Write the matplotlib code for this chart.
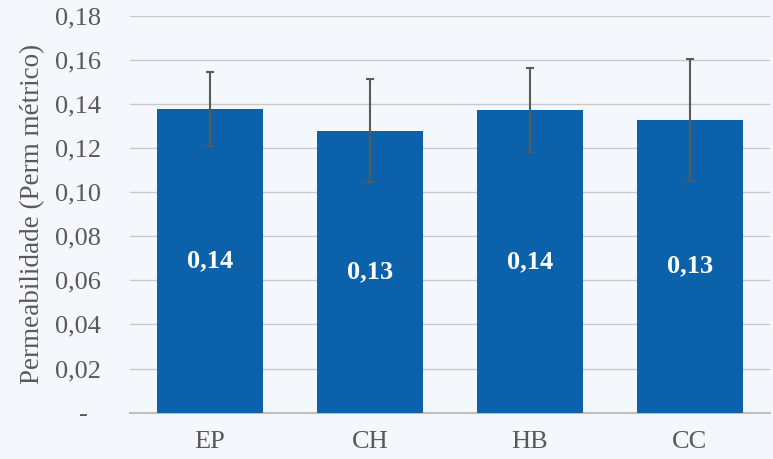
import numpy as np
import matplotlib
matplotlib.use("Agg")
import matplotlib.pyplot as plt

# data
categories = ["EP", "CH", "HB", "CC"]
means = [0.1376, 0.1279, 0.1372, 0.1327]
errors = [0.0168, 0.0234, 0.0190, 0.0276]
bar_labels = ["0,14", "0,13", "0,14", "0,13"]
yticks = [0.0, 0.02, 0.04, 0.06, 0.08, 0.10, 0.12, 0.14, 0.16, 0.18]

bg = "#f4f8fc"
bar_color = "#0b61aa"
text_grey = "#595959"

plt.rcParams["font.family"] = ["Liberation Serif", "DejaVu Serif"]

fig = plt.figure(figsize=(7.73, 4.59), dpi=100, facecolor=bg)
ax = fig.add_axes([0.168, 0.101, 0.828, 0.865], facecolor=bg)

x = np.arange(len(categories))
ax.bar(x, means, width=0.66, color=bar_color, zorder=3,
       yerr=errors, ecolor=text_grey,
       error_kw=dict(elinewidth=1.5, capsize=3, capthick=1.5, zorder=4))

for xi, m, lab in zip(x, means, bar_labels):
    ax.text(xi, m / 2, lab, ha="center", va="center", color="white",
            fontsize=19, fontweight="bold", zorder=5)

ax.set_xlim(-0.5, len(categories) - 0.5)
ax.set_ylim(0, 0.18)
ax.set_yticks(yticks)
ax.set_yticklabels(["-  "] + ["{:.2f}".format(v).replace(".", ",") for v in yticks[1:]])
ax.set_xticks(x)
ax.set_xticklabels(categories)

ax.grid(axis="y", color="#c9c9c9", linewidth=1.0, zorder=0)
for side in ["left", "right", "top"]:
    ax.spines[side].set_visible(False)
ax.spines["bottom"].set_color("#bfbfbf")
ax.spines["bottom"].set_linewidth(1.5)

ax.tick_params(axis="y", length=0, pad=21, labelsize=19, labelcolor=text_grey)
ax.tick_params(axis="x", length=0, pad=13, labelsize=19, labelcolor=text_grey)

ax.set_ylabel("Permeabilidade (Perm métrico)", fontsize=19.5, color=text_grey, labelpad=7)

fig.savefig("out.png", dpi=100, facecolor=bg)
